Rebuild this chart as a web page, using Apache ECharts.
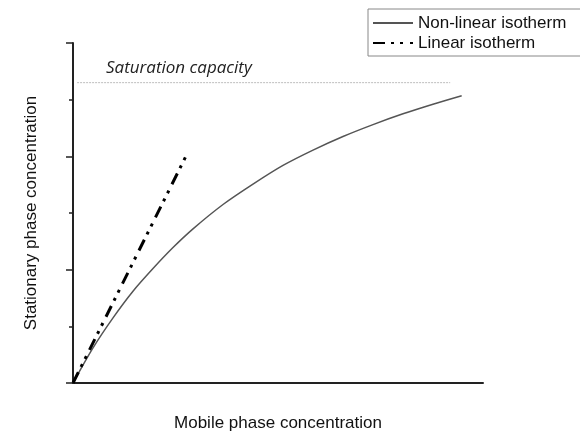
<!DOCTYPE html>
<html>
<head>
<meta charset="utf-8">
<script src="https://cdn.jsdelivr.net/npm/echarts@6/dist/echarts.min.js"></script>
<style>
html,body{margin:0;padding:0;background:#fff;}
#chart{width:580px;height:433px;}
</style>
</head>
<body>
<div id="chart"></div>
<script>
// Data (arbitrary units)
const nonLinearX = [0, 4.88, 9.76, 14.63, 19.51, 24.39, 29.27, 36.59, 43.90, 51.22, 58.54, 65.85, 73.17, 80.49, 87.80, 94.80];
const nonLinearY = [0, 0.62, 1.15, 1.62, 2.02, 2.39, 2.72, 3.15, 3.51, 3.84, 4.11, 4.35, 4.56, 4.75, 4.92, 5.07];
const linearX = [0, 27.6];
const linearY = [0, 4.01];
const saturationX = [1, 92];
const saturationY = [5.3, 5.3];
const seriesNames = ['Non-linear isotherm', 'Linear isotherm'];
const saturationLabel = 'Saturation capacity';
const xAxisName = 'Mobile phase concentration';
const yAxisName = 'Stationary phase concentration';

const zip = (xs, ys) => xs.map((x, i) => [x, ys[i]]);

const chart = echarts.init(document.getElementById('chart'), null, {renderer: 'canvas'});
chart.setOption({
  animation: false,
  backgroundColor: '#fff',
  grid: {left: 73, right: 97, top: 43, bottom: 50, outerBoundsMode: 'none', containLabel: false},
  legend: {
    data: seriesNames,
    orient: 'vertical',
    left: 368, top: 9,
    itemWidth: 40, itemHeight: 14, itemGap: 2,
    padding: [5, 30, 4, 4],
    borderColor: '#888', borderWidth: 1,
    itemStyle: {opacity: 0},
    textStyle: {fontFamily: 'Liberation Sans, Arial', fontSize: 17, color: '#111', lineHeight: 18}
  },
  xAxis: {
    type: 'value', min: 0, max: 100,
    name: xAxisName, nameLocation: 'middle', nameGap: 32,
    nameTextStyle: {fontFamily: 'Liberation Sans, Arial', fontSize: 17, color: '#111'},
    axisLine: {show: true, lineStyle: {color: '#222', width: 2}},
    axisTick: {show: false}, axisLabel: {show: false}, splitLine: {show: false}
  },
  yAxis: {
    type: 'value', min: 0, max: 6, interval: 2,
    name: yAxisName, nameLocation: 'middle', nameGap: 33, nameRotate: 90,
    nameTextStyle: {fontFamily: 'Liberation Sans, Arial', fontSize: 17, color: '#111'},
    axisLine: {show: true, onZero: false, lineStyle: {color: '#222', width: 2}},
    axisTick: {show: true, length: 7, lineStyle: {color: '#222', width: 1.5}},
    minorTick: {show: true, splitNumber: 2, length: 4, lineStyle: {color: '#222', width: 1.5}},
    axisLabel: {show: false}, splitLine: {show: false}
  },
  series: [
    {
      name: seriesNames[0], type: 'line', smooth: 0.3, symbol: 'none',
      data: zip(nonLinearX, nonLinearY),
      lineStyle: {color: '#555', width: 1.5}, itemStyle: {color: '#555'}
    },
    {
      name: seriesNames[1], type: 'line', symbol: 'none',
      data: zip(linearX, linearY),
      lineStyle: {color: '#000', width: 3, type: [12, 6, 3, 6, 3, 7], cap: 'butt'},
      itemStyle: {color: '#000'}
    },
    {
      name: 'saturation', type: 'line', symbol: 'none', silent: true,
      data: zip(saturationX, saturationY),
      lineStyle: {color: '#bdbdbd', width: 1, type: [2, 1]},
      label: {show: false}
    }
  ],
  graphic: [{
    type: 'text', left: 106, top: 60,
    style: {text: saturationLabel, fontFamily: 'Open Sans', fontStyle: 'italic', fontSize: 17, fill: '#222'}
  }]
});
</script>
</body>
</html>
